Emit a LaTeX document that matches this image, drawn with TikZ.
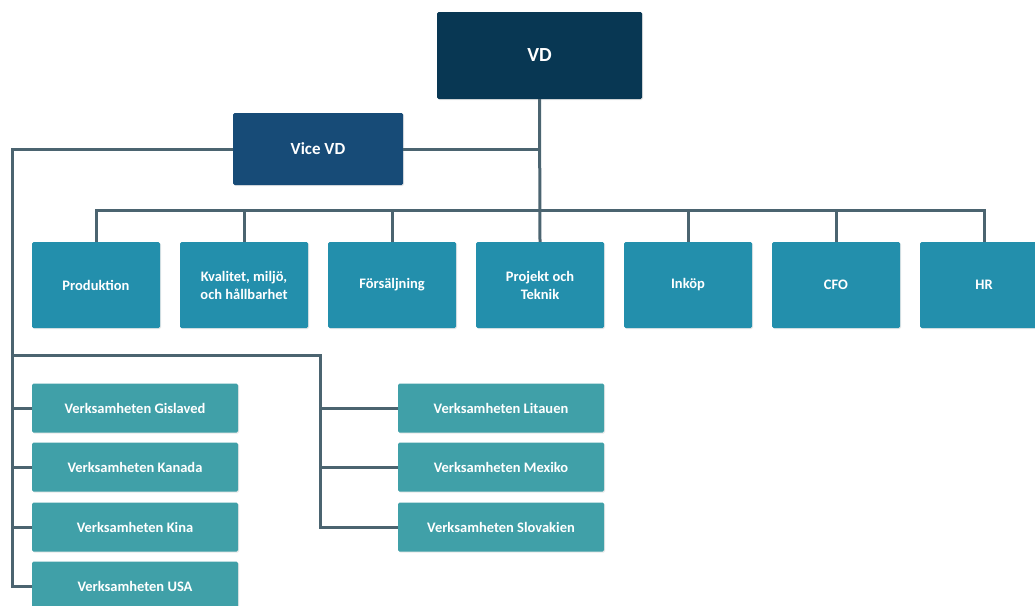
\documentclass[tikz,border=0pt]{standalone}
\usepackage{fontspec}
\setmainfont{Carlito}
\usetikzlibrary{shadows}
\definecolor{vdnavy}{HTML}{083753}
\definecolor{vicenavy}{HTML}{174B77}
\definecolor{deptteal}{HTML}{238FAC}
\definecolor{unitteal}{HTML}{40A0A8}
\definecolor{linegray}{HTML}{4B6470}
\tikzset{
  orgbox/.style={rounded corners=1.5pt, inner sep=2pt, text=white, align=center,
    drop shadow={opacity=0.18, shadow xshift=1pt, shadow yshift=-1pt}},
  chief/.style={orgbox, fill=vdnavy, minimum width=205pt, minimum height=87pt,
    font=\bfseries\fontsize{20}{24}\selectfont},
  deputy/.style={orgbox, fill=vicenavy, minimum width=170pt, minimum height=72pt,
    font=\bfseries\fontsize{17}{21}\selectfont},
  dept/.style={orgbox, fill=deptteal, minimum width=128pt, minimum height=86pt},
  unit/.style={orgbox, fill=unitteal, minimum width=206pt, minimum height=49pt},
  conn/.style={draw=linegray, line width=3pt}
}
\begin{document}
\begin{tikzpicture}[x=1pt, y=-1pt, every node/.style={font=\bfseries\fontsize{14.5}{18}\selectfont}]
  \useasboundingbox (0,0) rectangle (1035,605);
  % ledning
  \node[chief] (vd) at (539.5,55.5) {VD};
  \node[deputy] (vvd) at (318,149) {Vice VD};
  % avdelningar
  \node[dept] (prod) at (96,285) {Produktion};
  \node[dept] (kval) at (244,285) {Kvalitet, miljö,\\och hållbarhet};
  \node[dept] (fors) at (392,285) {Försäljning};
  \node[dept] (proj) at (540,285) {Projekt och\\Teknik};
  \node[dept] (inkop) at (688,285) {Inköp};
  \node[dept] (cfo) at (836,285) {CFO};
  \node[dept] (hr) at (984,285) {HR};
  % verksamheter
  \node[unit] (gis) at (135,408) {Verksamheten Gislaved};
  \node[unit] (kan) at (135,467) {Verksamheten Kanada};
  \node[unit] (kina) at (135,527) {Verksamheten Kina};
  \node[unit] (usa) at (135,586) {Verksamheten USA};
  \node[unit] (lit) at (501,408) {Verksamheten Litauen};
  \node[unit] (mex) at (501,467) {Verksamheten Mexiko};
  \node[unit] (slo) at (501,527) {Verksamheten Slovakien};
  % linjer
  \coordinate (lft) at (12,149);
  \coordinate (mid) at (320,355);
  \draw[conn] (vd.south) -- (proj.north);
  \draw[conn] (prod.north) -- ++(0,-31) -| (hr.north);
  \foreach \d in {kval,fors,inkop,cfo}
    \draw[conn] (\d.north) -- ++(0,-31);
  \draw[conn] (vvd.east) -- (vd.south |- vvd.east);
  \draw[conn] (vvd.west) -- (lft) |- (usa.west);
  \foreach \u in {gis,kan,kina}
    \draw[conn] (lft |- \u.west) -- (\u.west);
  \draw[conn] (lft |- mid) -- (mid) |- (slo.west);
  \foreach \u in {lit,mex}
    \draw[conn] (mid |- \u.west) -- (\u.west);
\end{tikzpicture}
\end{document}
